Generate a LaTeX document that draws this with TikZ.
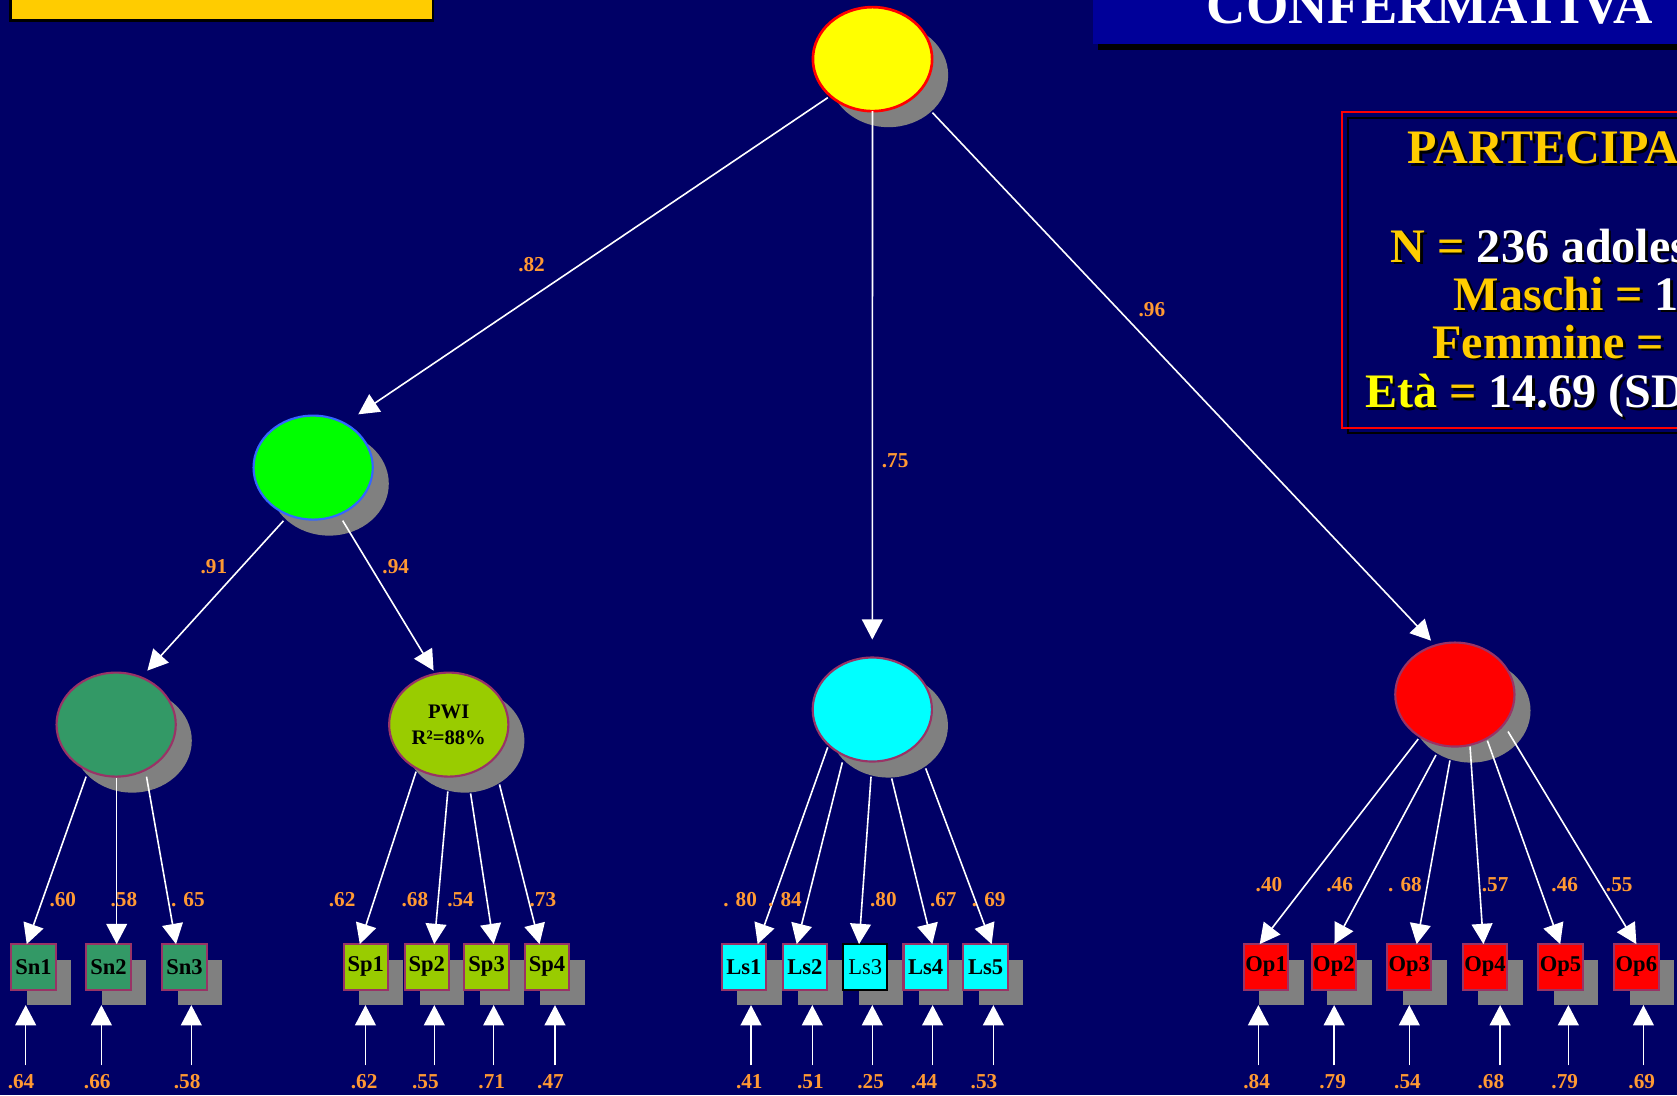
\documentclass[tikz,border=0pt]{standalone}
\usepackage{fontspec}
\setmainfont{Liberation Serif}
\usetikzlibrary{arrows.meta,shapes.geometric,shadows,calc}
\definecolor{bgc}{HTML}{000066}
\definecolor{gold}{HTML}{FFCC00}
\definecolor{yellowc}{HTML}{FFFF00}
\definecolor{lorange}{HTML}{FF9933}
\definecolor{plum}{HTML}{993366}
\definecolor{sngreen}{HTML}{339966}
\definecolor{pwig}{HTML}{99CC00}
\definecolor{lgreen}{HTML}{00FF00}
\definecolor{gblue}{HTML}{3366FF}
\definecolor{shgray}{HTML}{808080}
\definecolor{tbar}{HTML}{000099}
\definecolor{cyanc}{HTML}{00FFFF}
\definecolor{redc}{HTML}{FF0000}
\newcommand\tgold{\color{gold}}
\newcommand\twhite{\color{white}}
\newcommand\tyel{\color{yellowc}}
\newcommand\shline[3]{%
  \node[bxt, text=black, shift={(2.5,2.5)}] at (#2) {\let\tgold\relax\let\twhite\relax\let\tyel\relax #3};
  \node[bxt] (#1) at (#2) {#3};}
\begin{document}
\begin{tikzpicture}[x=0.02cm,y=-0.02cm,
  lat/.style={ellipse, draw=plum, line width=0.04cm, minimum width=2.23cm, minimum height=1.945cm,
    inner sep=0pt, outer sep=0pt,
    drop shadow={shadow xshift=0.3cm, shadow yshift=-0.3cm, fill=shgray, opacity=1}},
  ind/.style={rectangle, draw=plum, line width=0.038cm, minimum width=0.83cm, minimum height=0.85cm,
    inner sep=0pt, outer sep=0pt, font=\fontsize{12}{12}\selectfont\bfseries,
    drop shadow={shadow xshift=0.29cm, shadow yshift=-0.29cm, fill=shgray, opacity=1}},
  lbl/.style={text=lorange, font=\fontsize{11.3}{11.3}\selectfont\bfseries, inner sep=0pt},
  arr/.style={draw=white, line width=0.03cm, -{Triangle[length=0.38cm,width=0.39cm]}},
  bxt/.style={anchor=base west, inner sep=0pt, font=\fontsize{25.6}{25.6}\selectfont\bfseries}]
\useasboundingbox (0,0) rectangle (1568,1024);
\fill[bgc] (0,0) rectangle (1568,1024);
% top bars
\draw[fill=gold, draw=black, line width=0.05cm] (10,-10) rectangle (405,19);
\fill[black] (1027,-10) rectangle (1600,47);
\fill[tbar] (1022,-10) rectangle (1600,41);
\node[anchor=base west, inner sep=0pt, text=white, font=\fontsize{29}{29}\selectfont\bfseries] (title) at (1128,22.4) {CONFERMATIVA};
% participants box
\draw[black, line width=0.04cm] (1260,110) rectangle (1600,405);
\draw[redc, line width=0.04cm] (1255,105) rectangle (1600,400);
\shline{hdr}{1316,153}{\tgold PARTECIPA}
\shline{nline}{1300,245}{\tgold N = \twhite 236 adoles}
\shline{mline}{1359,290}{\tgold Maschi = \twhite 1}
\shline{fline}{1339,335}{\tgold Femmine = \twhite 1}
\shline{eline}{1276,381}{\tyel Età \tgold= \twhite 14.69 (SD}
% latent variables
\node[lat, fill=yellowc, draw=redc, line width=0.05cm] (G) at (815.8,55.3) {};
\node[lat, fill=lgreen, draw=gblue] (W) at (292.8,437.2) {};
\node[lat, fill=sngreen] (SN) at (108.6,677.5) {};
\node[lat, fill=pwig, align=center, font=\fontsize{11}{13.66}\selectfont\bfseries] (PWI) at (419.6,677.5) {PWI\\R²=88\%};
\node[lat, fill=cyanc] (LS) at (815.6,663.4) {};
\node[lat, fill=redc] (OP) at (1360.3,649.4) {};
% indicators
\foreach \n/\x/\c/\d/\f in {Sn1/31.3/sngreen/plum/\relax, Sn2/101.5/sngreen/plum/\relax, Sn3/172.5/sngreen/plum/\relax,
  Sp1/342/pwig/plum/\relax, Sp2/399/pwig/plum/\relax, Sp3/455/pwig/plum/\relax, Sp4/511.5/pwig/plum/\relax,
  Ls1/695.5/cyanc/plum/\relax, Ls2/752.5/cyanc/plum/\relax, Ls3/809/cyanc/black/\mdseries, Ls4/865.5/cyanc/plum/\relax, Ls5/921.5/cyanc/plum/\relax,
  Op1/1183.8/redc/plum/\relax, Op2/1247.2/redc/plum/\relax, Op3/1317.6/redc/plum/\relax, Op4/1388.5/redc/plum/\relax, Op5/1459.1/redc/plum/\relax, Op6/1530/redc/plum/\relax}
  \node[ind, fill=\c, draw=\d] (\n) at (\x,904) {\f\n};
% error terms
\foreach \n/\ax/\lx/\t in {Sn1/24/19.7/.64, Sn2/94.8/90.9/.66, Sn3/178.9/175/.58, Sp1/341.7/340.5/.62, Sp2/406.1/397.7/.55,
  Sp3/461.6/459.8/.71, Sp4/518.9/514.7/.47, Ls1/702.2/700.6/.41, Ls2/759.5/757.7/.51, Ls3/815.6/814/.25, Ls4/872/864/.44,
  Ls5/928.8/920/.53, Op1/1176.6/1175/.84, Op2/1247.4/1246/.79, Op3/1317.7/1316/.54, Op4/1402.6/1394/.68, Op5/1466.4/1463/.79, Op6/1536.6/1535/.69}
{ \node[lbl] (e\n) at (\lx,1011) {\t};
  \coordinate (a\n) at (\ax,996);
  \draw[arr] (a\n) -- ($(a\n|-\n.south)+(0,14.5)$); }
% loadings
\foreach \L/\n/\dx/\dy/\ex/\lx/\ly/\t in {
SN/Sn1/-28.1/48.7/-6.3/58.7/841.5/.60,
SN/Sn2/0.5/50.3/7.6/115.8/841.5/.58,
SN/Sn3/28.4/48.7/-7.9/175.7/841.5/. 65,
PWI/Sp1/-30.6/44/-5.6/319.9/841.5/.62,
PWI/Sp2/-0.9/62.5/7/387.9/841.5/.68,
PWI/Sp3/20.4/64.3/6.6/430.6/841.5/.54,
PWI/Sp4/47.4/55.9/-7/507.6/841.5/.73,
LS/Ls1/-41.7/35.4/12.9/692/841.5/. 80,
LS/Ls2/-28/49.4/-7.6/734/841.5/. 84,
LS/Ls3/-1.2/62.8/-5.8/826/841.5/.80,
LS/Ls4/18.1/64.4/6.2/882/841.5/.67,
LS/Ls5/49.9/55/5.7/924.5/841.5/. 69,
OP/Op1/-34.3/41.6/-6/1186.5/827.5/.40,
OP/Op2/-17.7/56.6/0.5/1252.6/827.5/.46,
OP/Op3/-4.6/61.6/7/1313.6/827.5/. 68,
OP/Op4/14.2/48.6/-1.5/1398/827.5/.57,
OP/Op5/30.4/43.1/-0.3/1463/827.5/.46,
OP/Op6/49.7/34.6/0/1514/827.5/.55}
{ \draw[arr] ([shift={(\dx,\dy)}]\L.center) -- ([shift={(\ex,0)}]\n.north);
  \node[lbl] (l\n) at (\lx,\ly) {\t}; }
% higher order paths
\draw[arr] ([shift={(-41.8,36)}]G.center) -- ([shift={(42.2,-49.8)}]W.center);
\draw[arr] (G.south) -- ([shift={(0,-65.4)}]LS.center);
\draw[arr] ([shift={(56,50)}]G.center) -- ([shift={(-22.3,-50.4)}]OP.center);
\draw[arr] ([shift={(-27.8,49.8)}]W.center) -- ([shift={(29.2,-50.5)}]SN.center);
\draw[arr] ([shift={(27.6,49.6)}]W.center) -- ([shift={(-14.2,-50.5)}]PWI.center);
\node[lbl] (h1) at (497,247) {.82};
\node[lbl] (h2) at (1077,289.5) {.96};
\node[lbl] (h3) at (837,431) {.75};
\node[lbl] (h4) at (200,530) {.91};
\node[lbl] (h5) at (370,530) {.94};
\end{tikzpicture}
\end{document}
